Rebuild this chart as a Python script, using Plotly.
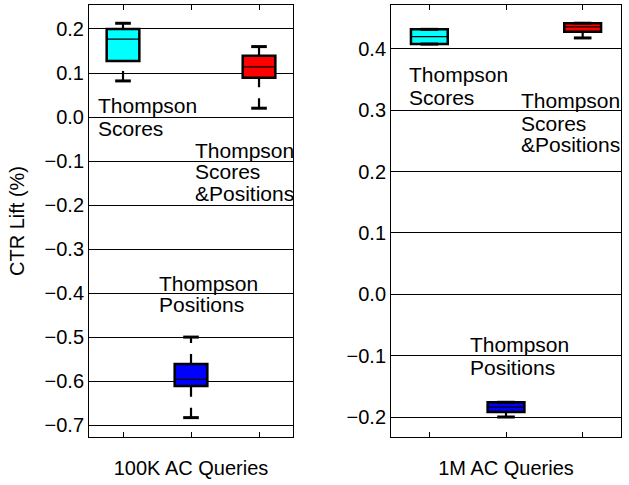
import plotly.graph_objects as go

# ---- data ----
methods = ["Thompson Scores", "Thompson Positions", "Thompson Scores & Positions"]
positions = [1, 2, 3]
colors = ["#00FFFF", "#0000FF", "#FF0000"]

# 100K AC Queries
k100_lower = [0.082, -0.683, 0.020]
k100_q1 = [0.127, -0.611, 0.089]
k100_median = [0.177, -0.596, 0.114]
k100_q3 = [0.200, -0.561, 0.139]
k100_upper = [0.213, -0.500, 0.160]

# 1M AC Queries
m1_lower = [0.408, -0.200, 0.418]
m1_q1 = [0.408, -0.192, 0.428]
m1_median = [0.420, -0.184, 0.436]
m1_q3 = [0.432, -0.176, 0.442]
m1_upper = [0.432, -0.176, 0.442]

panel_titles = ["100K AC Queries", "1M AC Queries"]
y_title = "CTR Lift (%)"

# label lines: (x_left, y_center, text)
labels_100k = [
    (0.603, 0.0255, "Thompson"), (0.603, -0.0266, "Scores"),
    (2.034, -0.0755, "Thompson"), (2.034, -0.1248, "Scores"), (2.034, -0.174, "&Positions"),
    (1.495, -0.378, "Thompson"), (1.495, -0.4257, "Positions"),
]
labels_1m = [
    (0.705, 0.3589, "Thompson"), (0.705, 0.3217, "Scores"),
    (2.169, 0.3155, "Thompson"), (2.169, 0.2780, "Scores"), (2.169, 0.2435, "&Positions"),
    (1.50, -0.0812, "Thompson"), (1.50, -0.1188, "Positions"),
]

FONT = "Liberation Sans, Arial, sans-serif"
FS = 20
AFS = 21
BOXW = 0.48
CAPW = 0.115

fig = go.Figure()


def add_panel(xa, ya, lower, q1, med, q3, upper):
    xref = "x" if xa == "" else "x" + xa
    yref = "y" if ya == "" else "y" + ya
    for i, p in enumerate(positions):
        # whiskers (drawn bottom to top, dashed)
        for a, b in ((lower[i], q1[i]), (q3[i], upper[i])):
            if b > a:
                fig.add_trace(go.Scatter(x=[p, p], y=[a, b], mode="lines",
                                         line=dict(color="black", width=2.2, dash="10px,11px"),
                                         xaxis=xref, yaxis=yref, showlegend=False, hoverinfo="skip"))
        # caps
        for v in (lower[i], upper[i]):
            fig.add_trace(go.Scatter(x=[p - CAPW, p + CAPW], y=[v, v], mode="lines",
                                     line=dict(color="black", width=3),
                                     xaxis=xref, yaxis=yref, showlegend=False, hoverinfo="skip"))
    # boxes
    fig.add_trace(go.Bar(x=positions, y=[b - a for a, b in zip(q1, q3)], base=q1,
                         width=BOXW, marker=dict(color=colors, line=dict(color="black", width=2.5)),
                         xaxis=xref, yaxis=yref, showlegend=False, hoverinfo="skip"))
    # medians
    for i, p in enumerate(positions):
        fig.add_trace(go.Scatter(x=[p - BOXW / 2, p + BOXW / 2], y=[med[i], med[i]], mode="lines",
                                 line=dict(color="black", width=1.2),
                                 xaxis=xref, yaxis=yref, showlegend=False, hoverinfo="skip"))


add_panel("", "", k100_lower, k100_q1, k100_median, k100_q3, k100_upper)
add_panel("2", "2", m1_lower, m1_q1, m1_median, m1_q3, m1_upper)

ann = []
for x, y, t in labels_100k:
    ann.append(dict(x=x, y=y, xref="x", yref="y", text=t, showarrow=False,
                    xanchor="left", yanchor="middle", font=dict(family=FONT, size=AFS, color="black")))
for x, y, t in labels_1m:
    ann.append(dict(x=x, y=y, xref="x2", yref="y2", text=t, showarrow=False,
                    xanchor="left", yanchor="middle", font=dict(family=FONT, size=AFS, color="black")))

xcommon = dict(range=[0.5, 3.5], tickvals=positions, ticktext=["", "", ""], showticklabels=False,
               ticks="inside", ticklen=5, tickcolor="black", showline=True, linecolor="black",
               linewidth=1, mirror="ticks", showgrid=False, zeroline=False, automargin=False,
               title=dict(font=dict(family=FONT, size=FS, color="black"), standoff=23))
ycommon = dict(dtick=0.1, tickformat=".1f", ticks="inside", ticklen=5, tickcolor="black",
               showline=True, linecolor="black", linewidth=1, mirror="ticks",
               showgrid=True, gridcolor="black", gridwidth=1, zeroline=False, automargin=False,
               tickfont=dict(family=FONT, size=FS, color="black"))

fig.update_layout(
    width=629, height=485,
    margin=dict(l=89, r=8, t=5, b=48),
    paper_bgcolor="white", plot_bgcolor="white",
    font=dict(family=FONT, size=FS, color="black"),
    barmode="overlay",
    xaxis=dict(domain=[0, 0.3835], anchor="y", **xcommon),
    xaxis2=dict(domain=[0.5677, 1.0], anchor="y2", **xcommon),
    yaxis=dict(range=[-0.727, 0.2545], anchor="x", tick0=0,
               title=dict(text=y_title, font=dict(family=FONT, size=FS, color="black"), standoff=14),
               **ycommon),
    yaxis2=dict(range=[-0.2326, 0.4717], anchor="x2", tick0=0, **ycommon),
    annotations=ann,
)
fig.layout.xaxis.title.text = panel_titles[0]
fig.layout.xaxis2.title.text = panel_titles[1]

fig.write_html("out.html", config={"displayModeBar": False},
               post_script="document.body.style.margin='0';document.body.style.padding='0';")
